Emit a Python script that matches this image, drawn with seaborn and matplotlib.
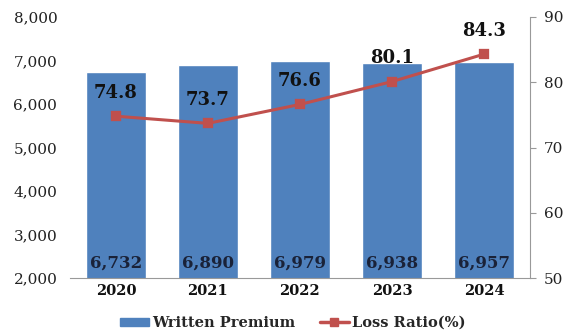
import pandas as pd
import matplotlib.pyplot as plt
import seaborn as sns
from matplotlib.lines import Line2D
from matplotlib.patches import Patch

# data
years = ['2020', '2021', '2022', '2023', '2024']
premium = [6732, 6890, 6979, 6938, 6957]
loss_ratio = [74.8, 73.7, 76.6, 80.1, 84.3]

df = pd.DataFrame({'year': years, 'premium': premium, 'loss': loss_ratio})

sns.set_style('white')
plt.rcParams['font.family'] = ['DejaVu Serif']

fig = plt.figure(figsize=(5.68, 3.33), dpi=100)
ax = fig.add_axes([0.123, 0.165, 0.81, 0.784])

bar_c = '#4F81BD'
line_c = '#C0504D'

sns.barplot(data=df, x='year', y='premium', color=bar_c, width=0.66, ax=ax, saturation=1)
ax.set_ylim(2000, 8000)
ax.set_yticks(range(2000, 8001, 1000))
ax.set_yticklabels([f'{v:,}' for v in range(2000, 8001, 1000)], fontsize=11, color='#222222')
ax.set_xlabel('')
ax.set_ylabel('')
for lbl in ax.get_xticklabels():
    lbl.set_fontweight('bold')
    lbl.set_fontsize(10.5)
    lbl.set_color('#111111')
ax.tick_params(axis='y', length=0, pad=9)
ax.tick_params(axis='x', length=0, pad=4)
for s in ['top', 'right', 'left']:
    ax.spines[s].set_visible(False)
ax.spines['bottom'].set_color('#999999')

for i, v in enumerate(premium):
    ax.text(i, 2340, f'{v:,}', ha='center', va='center', fontsize=12,
            fontweight='bold', color='#1a2238')

ax2 = ax.twinx()
sns.pointplot(data=df, x='year', y='loss', color=line_c, markers='s',
              markersize=6, linewidth=2.2, ax=ax2)
ax2.set_ylim(50, 90)
ax2.set_yticks(range(50, 91, 10))
ax2.set_yticklabels([str(v) for v in range(50, 91, 10)], fontsize=11, color='#222222')
ax2.set_ylabel('')
ax2.tick_params(axis='y', direction='out', length=4, color='#999999', pad=6)
for s in ['top', 'left', 'bottom']:
    ax2.spines[s].set_visible(False)
ax2.spines['right'].set_color('#999999')

for i, v in enumerate(loss_ratio):
    ax2.text(i, v + 3.6, f'{v}', ha='center', va='center', fontsize=13,
             fontweight='bold', color='#111111')

handles = [Patch(color=bar_c), Line2D([], [], color=line_c, lw=2.5, marker='s', markersize=6)]
fig.legend(handles, ['Written Premium', 'Loss Ratio(%)'], loc='center',
           bbox_to_anchor=(0.515, 0.03), ncol=2, frameon=False, handlelength=2.0,
           handleheight=0.5, columnspacing=1.7, handletextpad=0.2,
           prop={'weight': 'bold', 'size': 10.5})

fig.savefig('out.png', dpi=100)
